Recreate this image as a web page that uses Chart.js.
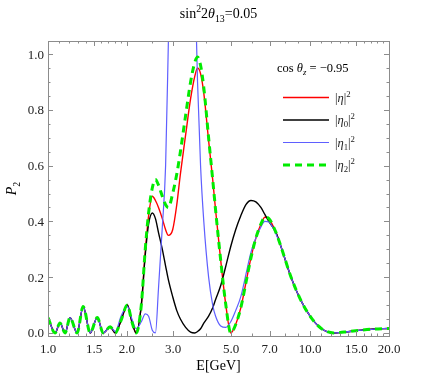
<!DOCTYPE html>
<html>
<head>
<meta charset="utf-8">
<script src="https://cdn.jsdelivr.net/npm/chart.js@4.4.1/dist/chart.umd.min.js"></script>
<style>
  body { margin: 0; background: #fff; }
</style>
</head>
<body>
<canvas id="myChart" width="436" height="382"></canvas>
<script>
// energies in GeV (shared grid for all curves)
const energy = [1.0, 1.064, 1.111, 1.162, 1.214, 1.291, 1.362, 1.449, 1.541, 1.625, 1.727, 1.806, 1.9, 2.007, 2.09, 2.17,
  2.27, 2.35, 2.42, 2.5, 2.57, 2.64, 2.73, 2.81, 2.88, 2.99, 3.1, 3.2, 3.35, 3.5, 3.63, 3.72, 3.82, 3.93, 4.1, 4.25,
  4.36, 4.56, 4.77, 4.98, 5.2, 5.44, 5.69, 5.95, 6.21, 6.49, 6.72, 6.96, 7.41, 7.74, 8.46, 9.24, 10.09, 11.0, 12.3,
  13.5, 15.7, 17.5, 20.0];

// |eta|^2
const etaSq = [0.055, 0.0, 0.036, 0.0, 0.055, 0.0, 0.095, 0.0, 0.055, 0.0, 0.022, 0.0, 0.045, 0.1, 0.04, 0.0,
  0.1, 0.29, 0.42, 0.49, 0.475, 0.45, 0.41, 0.37, 0.35, 0.37, 0.46, 0.57, 0.71, 0.84, 0.92, 0.95, 0.93, 0.86, 0.69, 0.55,
  0.44, 0.26, 0.1, 0.0, 0.03, 0.09, 0.18, 0.27, 0.34, 0.39, 0.415, 0.41, 0.36, 0.31, 0.2, 0.115, 0.055, 0.017, 0.0,
  0.003, 0.01, 0.014, 0.016];

// |eta0|^2
const eta0Sq = [0.055, 0.0, 0.036, 0.0, 0.055, 0.0, 0.095, 0.0, 0.055, 0.0, 0.022, 0.0, 0.045, 0.1, 0.04, 0.0,
  0.1, 0.28, 0.39, 0.43, 0.41, 0.36, 0.3, 0.24, 0.19, 0.13, 0.08, 0.05, 0.02, 0.003, 0.0, 0.005, 0.015, 0.035, 0.06, 0.09,
  0.12, 0.17, 0.24, 0.31, 0.37, 0.42, 0.46, 0.475, 0.47, 0.45, 0.425, 0.4, 0.36, 0.31, 0.2, 0.115, 0.055, 0.017, 0.0,
  0.003, 0.01, 0.014, 0.016];

// |eta1|^2
const eta1Sq = [0.055, 0.0, 0.036, 0.0, 0.055, 0.0, 0.095, 0.0, 0.055, 0.0, 0.022, 0.005, 0.06, 0.095, 0.05, 0.015,
  0.04, 0.068, 0.06, 0.01, 0.0, 0.16, 0.38, 0.6, 1.05, 1.8, 2.4, 2.7, 2.6, 2.0, 1.3, 0.9, 0.6, 0.4, 0.2, 0.1,
  0.06, 0.025, 0.02, 0.04, 0.08, 0.13, 0.21, 0.29, 0.34, 0.38, 0.4, 0.398, 0.355, 0.31, 0.2, 0.115, 0.055, 0.017, 0.0,
  0.003, 0.01, 0.014, 0.016];

// |eta2|^2
const eta2Sq = [0.055, 0.0, 0.036, 0.0, 0.055, 0.0, 0.095, 0.0, 0.055, 0.0, 0.022, 0.0, 0.045, 0.1, 0.04, 0.0,
  0.1, 0.3, 0.43, 0.52, 0.55, 0.53, 0.49, 0.46, 0.45, 0.5, 0.57, 0.65, 0.78, 0.9, 0.97, 0.99, 0.96, 0.88, 0.7, 0.55,
  0.44, 0.26, 0.1, 0.0, 0.03, 0.09, 0.18, 0.27, 0.34, 0.39, 0.415, 0.41, 0.36, 0.31, 0.2, 0.115, 0.055, 0.017, 0.0,
  0.003, 0.01, 0.014, 0.016];

const xTicks = [1, 1.5, 2, 3, 5, 7, 10, 15, 20];
const xTickLabels = ['1.0', '1.5', '2.0', '3.0', '5.0', '7.0', '10.0', '15.0', '20.0'];
const xMinor = [1.1, 1.2, 1.3, 1.4, 1.6, 1.7, 1.8, 1.9, 2.5, 4, 6, 8, 9, 11, 12, 13, 14, 16, 17, 18, 19];
const yTicks = [0, 0.2, 0.4, 0.6, 0.8, 1.0];
const yTickLabels = ['0.0', '0.2', '0.4', '0.6', '0.8', '1.0'];

const SERIF = '"Liberation Serif", "DejaVu Serif", serif';

function pts(vals) {
  return energy.map((e, i) => ({ x: e, y: vals[i] }));
}

// text with italic / sub / sup pieces
function rich(ctx, parts, x, y, size, align) {
  let w = 0;
  const m = [];
  for (const [t, k] of parts) {
    const small = k === 'sup' || k === 'sub' || k === 'isub';
    const fs = small ? size * 0.7 : size;
    const it = k === 'i' || k === 'isub';
    ctx.font = (it ? 'italic ' : '') + fs + 'px ' + SERIF;
    const tw = ctx.measureText(t).width;
    m.push({ t, font: ctx.font, dy: k === 'sup' ? -size * 0.4 : (small ? size * 0.25 : 0), tw });
    w += tw;
  }
  let cx = align === 'center' ? x - w / 2 : align === 'right' ? x - w : x;
  ctx.textAlign = 'left';
  ctx.textBaseline = 'alphabetic';
  for (const p of m) {
    ctx.font = p.font;
    ctx.fillText(p.t, cx, y + p.dy);
    cx += p.tw;
  }
}

const frame = {
  id: 'frame',
  afterDatasetsDraw(chart) {
    const ctx = chart.ctx;
    const a = chart.chartArea;
    const xs = chart.scales.x, ys = chart.scales.y;
    ctx.save();
    ctx.strokeStyle = '#8c8c8c';
    ctx.lineWidth = 1;
    ctx.strokeRect(Math.round(a.left) + 0.5, Math.round(a.top) + 0.5,
      Math.round(a.right - a.left), Math.round(a.bottom - a.top));

    ctx.beginPath();
    const tx = (v, len) => {
      const p = Math.round(xs.getPixelForValue(v)) + 0.5;
      ctx.moveTo(p, a.bottom); ctx.lineTo(p, a.bottom - len);
      ctx.moveTo(p, a.top); ctx.lineTo(p, a.top + len);
    };
    xTicks.forEach(v => tx(v, 5));
    xMinor.forEach(v => tx(v, 2.5));
    const ty = (v, len) => {
      const p = Math.round(ys.getPixelForValue(v)) + 0.5;
      ctx.moveTo(a.left, p); ctx.lineTo(a.left + len, p);
      ctx.moveTo(a.right, p); ctx.lineTo(a.right - len, p);
    };
    yTicks.forEach(v => ty(v, 5));
    for (let i = 1; i < 21; i++) if (i % 4) ty(i * 0.05, 2.5);
    ctx.stroke();

    ctx.fillStyle = '#222';
    xTicks.forEach((v, i) => {
      rich(ctx, [[xTickLabels[i], '']], xs.getPixelForValue(v), a.bottom + 17, 13, 'center');
    });
    yTicks.forEach((v, i) => {
      rich(ctx, [[yTickLabels[i], '']], a.left - 4, ys.getPixelForValue(v) + 4.5, 13, 'right');
    });

    ctx.fillStyle = '#000';
    rich(ctx, [['sin', ''], ['2', 'sup'], ['2', ''], ['θ', 'i'], ['13', 'sub'], ['=0.05', '']],
      (a.left + a.right) / 2, 18, 14, 'center');
    rich(ctx, [['E[GeV]', '']], (a.left + a.right) / 2, 370, 14, 'center');
    ctx.save();
    ctx.translate(16, (a.top + a.bottom) / 2);
    ctx.rotate(-Math.PI / 2);
    rich(ctx, [['P', 'i'], ['2', 'sub']], 0, 0, 14, 'center');
    ctx.restore();

    // legend
    rich(ctx, [['cos ', ''], ['θ', 'i'], ['z', 'isub'], [' = −0.95', '']], 277, 72, 12.5, 'left');
    const rows = [
      { y: 97.5, ds: 3, parts: [['|', ''], ['η', 'i'], ['|', ''], ['2', 'sup']] },
      { y: 120, ds: 2, parts: [['|', ''], ['η', 'i'], ['0', 'sub'], ['|', ''], ['2', 'sup']] },
      { y: 142.5, ds: 1, parts: [['|', ''], ['η', 'i'], ['1', 'sub'], ['|', ''], ['2', 'sup']] },
      { y: 165, ds: 0, parts: [['|', ''], ['η', 'i'], ['2', 'sub'], ['|', ''], ['2', 'sup']] }
    ];
    rows.forEach(r => {
      const d = chart.data.datasets[r.ds];
      ctx.beginPath();
      ctx.strokeStyle = d.borderColor;
      ctx.lineWidth = d.borderWidth;
      ctx.setLineDash(d.borderDash || []);
      ctx.moveTo(283, r.y); ctx.lineTo(329, r.y);
      ctx.stroke();
      ctx.setLineDash([]);
      ctx.fillStyle = '#222';
      rich(ctx, r.parts, 335, r.y + 4, 12.5, 'left');
    });
    ctx.restore();
  }
};

new Chart(document.getElementById('myChart'), {
  type: 'line',
  data: {
    datasets: [
      { label: '|η2|²', data: pts(eta2Sq), borderColor: 'rgb(0,235,0)', borderWidth: 3, borderDash: [7, 5], order: 0 },
      { label: '|η1|²', data: pts(eta1Sq), borderColor: 'rgb(95,95,255)', borderWidth: 1.2, order: 1 },
      { label: '|η0|²', data: pts(eta0Sq), borderColor: '#000', borderWidth: 1.4, order: 2 },
      { label: '|η|²', data: pts(etaSq), borderColor: 'rgb(255,0,0)', borderWidth: 1.4, order: 3 }
    ]
  },
  options: {
    responsive: false,
    animation: false,
    devicePixelRatio: 1,
    layout: { padding: { left: 48, right: 47, top: 41, bottom: 46 } },
    elements: {
      point: { radius: 0 },
      line: { cubicInterpolationMode: 'monotone', fill: false }
    },
    scales: {
      x: { type: 'logarithmic', min: 1, max: 20, display: false },
      y: { type: 'linear', min: -0.011, max: 1.047, display: false }
    },
    plugins: {
      legend: { display: false },
      tooltip: { enabled: false }
    }
  },
  plugins: [frame]
});
</script>
</body>
</html>
